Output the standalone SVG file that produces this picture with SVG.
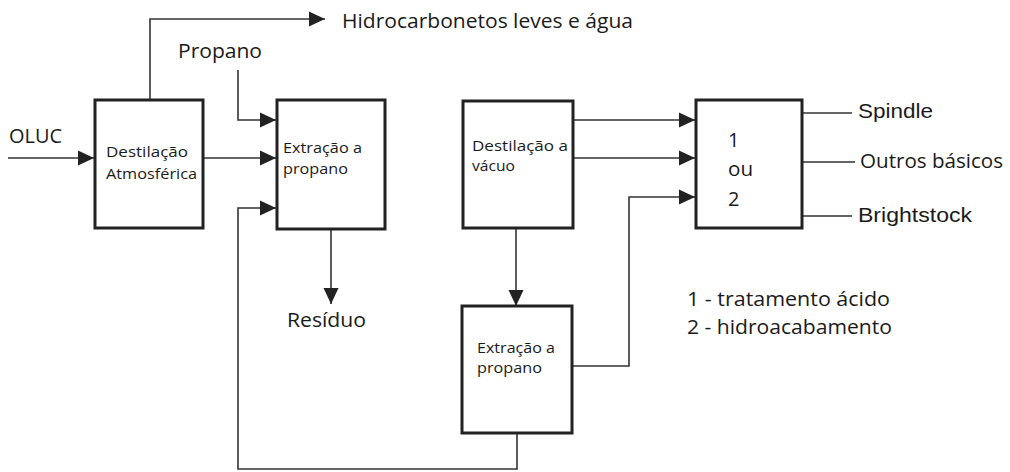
<svg xmlns="http://www.w3.org/2000/svg" width="1010" height="472" viewBox="0 0 1010 472">
<defs>
<marker id="arr" markerUnits="userSpaceOnUse" markerWidth="16" markerHeight="16" refX="16" refY="8" orient="auto">
<path d="M0,0.5 L16,8 L0,15.5 z" fill="#222"/>
</marker>
<style>
.box{fill:#fff;stroke:#222;stroke-width:3}
.c{fill:none;stroke:#333;stroke-width:1.6}
.a{marker-end:url(#arr)}
.t{font-family:"Open Sans","Noto Sans",sans-serif;fill:#1a1a1a}
.s{font-size:15px}
.l{font-size:20px}
.ar{font-family:"Liberation Sans",Arial,sans-serif;font-size:21px;fill:#1a1a1a}
</style>
</defs>
<rect width="1010" height="472" fill="#fff"/>
<g id="connectors">
<polyline class="c a" points="8,158 94,158"/>
<polyline class="c a" points="203,158 276,158"/>
<polyline class="c a" points="150,100 150,19 325,19"/>
<polyline class="c a" points="238,70 238,120 276,120"/>
<polyline class="c a" points="517,433 517,469 238,469 238,208 276,208"/>
<polyline class="c a" points="331,229 331,304"/>
<polyline class="c a" points="516,228 516,306"/>
<polyline class="c a" points="573,120 695,120"/>
<polyline class="c a" points="573,158 695,158"/>
<polyline class="c a" points="572,366 629,366 629,197 695,197"/>
<polyline class="c" points="802,113 852,113"/>
<polyline class="c" points="802,162 855,162"/>
<polyline class="c" points="802,216 852,216"/>
</g>
<g id="atm">
<rect class="box" x="95" y="100" width="108" height="128"/>
<text class="t s" x="106" y="157" textLength="82" lengthAdjust="spacingAndGlyphs">Destilação</text>
<text class="t s" x="106" y="179" textLength="91" lengthAdjust="spacingAndGlyphs">Atmosférica</text>
</g>
<g id="ext1">
<rect class="box" x="277" y="100" width="108" height="129"/>
<text class="t s" x="283" y="153" textLength="79" lengthAdjust="spacingAndGlyphs">Extração a</text>
<text class="t s" x="283" y="174" textLength="65" lengthAdjust="spacingAndGlyphs">propano</text>
</g>
<g id="vac">
<rect class="box" x="463" y="101" width="110" height="127"/>
<text class="t s" x="472" y="151" textLength="96" lengthAdjust="spacingAndGlyphs">Destilação a</text>
<text class="t s" x="472" y="171" textLength="43" lengthAdjust="spacingAndGlyphs">vácuo</text>
</g>
<g id="ext2">
<rect class="box" x="462" y="306" width="110" height="127"/>
<text class="t s" x="477" y="353" textLength="78" lengthAdjust="spacingAndGlyphs">Extração a</text>
<text class="t s" x="477" y="373" textLength="65" lengthAdjust="spacingAndGlyphs">propano</text>
</g>
<g id="trat">
<rect class="box" x="696" y="100" width="106" height="128"/>
<text class="t l" x="728" y="147">1</text>
<text class="t l" x="728" y="176" textLength="25" lengthAdjust="spacingAndGlyphs">ou</text>
<text class="t l" x="728" y="206">2</text>
</g>
<g id="labels">
<text class="t l" x="9" y="143" textLength="53" lengthAdjust="spacingAndGlyphs">OLUC</text>
<text class="t l" x="178" y="58" textLength="84" lengthAdjust="spacingAndGlyphs">Propano</text>
<text class="t l" x="342" y="28" textLength="291" lengthAdjust="spacingAndGlyphs">Hidrocarbonetos leves e água</text>
<text class="t l" x="287" y="327" textLength="79" lengthAdjust="spacingAndGlyphs">Resíduo</text>
<text class="ar" x="858" y="118" textLength="75" lengthAdjust="spacingAndGlyphs">Spindle</text>
<text class="t l" x="860" y="168" textLength="143" lengthAdjust="spacingAndGlyphs">Outros básicos</text>
<text class="ar" x="858" y="222" textLength="114" lengthAdjust="spacingAndGlyphs">Brightstock</text>
<text class="t l" x="687" y="306" textLength="203" lengthAdjust="spacingAndGlyphs">1 - tratamento ácido</text>
<text class="t l" x="687" y="334" textLength="205" lengthAdjust="spacingAndGlyphs">2 - hidroacabamento</text>
</g>
</svg>
